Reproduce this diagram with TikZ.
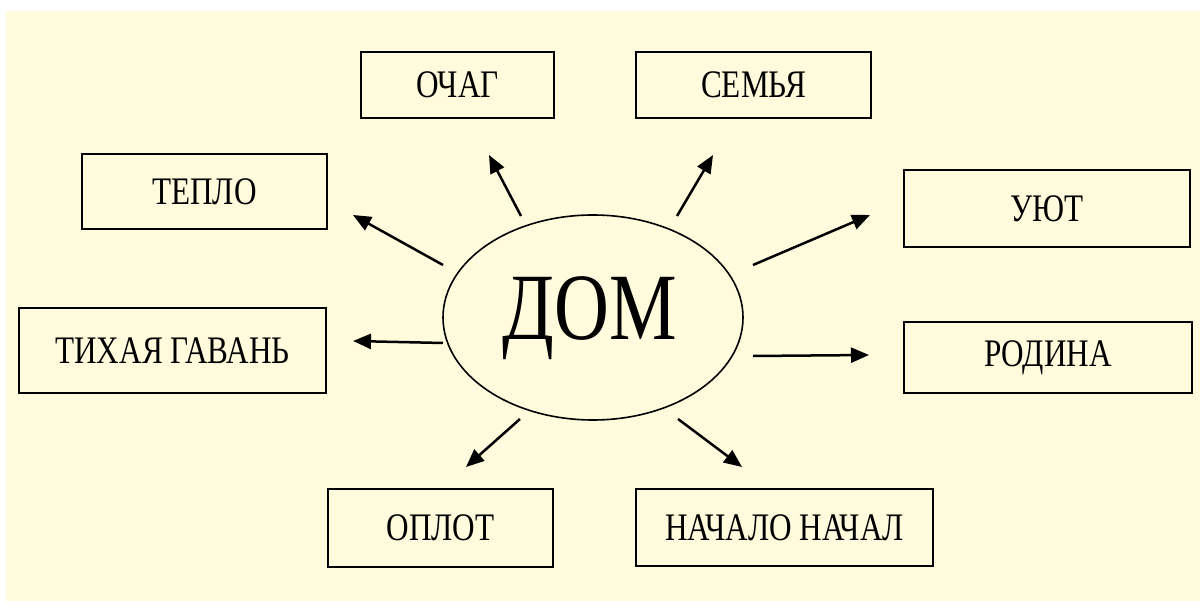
\documentclass[tikz,border=0pt]{standalone}
\usepackage{fontspec}
\setmainfont{Liberation Serif}
\newfontfamily\boxfont[FakeStretch=0.8]{Liberation Serif}
\usetikzlibrary{shapes.geometric,arrows.meta}
\definecolor{cream}{RGB}{255,251,220}
\tikzset{
  wordbox/.style={draw=black, line width=2.4pt, rectangle, inner sep=0pt,
    font=\boxfont\fontsize{39}{39}\selectfont},
  arr/.style={line width=2.5pt, -{Triangle[length=18pt,width=15pt]}},
  centre/.style={draw=black, line width=1.6pt, ellipse, inner sep=0pt,
    minimum width=300pt, minimum height=205pt}
}
\begin{document}
\begin{tikzpicture}[x=1pt,y=-1pt]
\useasboundingbox (0,0) rectangle (1200,601);
\fill[white] (0,0) rectangle (1200,601);
\fill[cream] (6,11) rectangle (1200,601);
% centre
\node[centre] (dom) at (593,317.5) {};
\node[anchor=base, inner sep=0pt, font=\boxfont\fontsize{95}{95}\selectfont] (domtext) at (590,340) {ДОМ};
% boxes
\node[wordbox, minimum width=193pt, minimum height=66pt] (ochag) at (457.5,85) {ОЧАГ};
\node[wordbox, minimum width=235pt, minimum height=66pt] (semya) at (753.5,85) {СЕМЬЯ};
\node[wordbox, minimum width=245pt, minimum height=75pt] (teplo) at (204.5,191.5) {ТЕПЛО};
\node[wordbox, minimum width=286pt, minimum height=77pt] (uyut) at (1047,208.5) {УЮТ};
\node[wordbox, minimum width=307pt, minimum height=85pt] (gavan) at (172.5,350.5) {ТИХАЯ ГАВАНЬ};
\node[wordbox, minimum width=288pt, minimum height=71pt] (rodina) at (1048,357.5) {РОДИНА};
\node[wordbox, minimum width=225pt, minimum height=78pt] (oplot) at (440.5,528) {ОПЛОТ};
\node[wordbox, minimum width=297pt, minimum height=77pt] (nachalo) at (784.5,527.5) {НАЧАЛО НАЧАЛ};
% arrow ends
\coordinate (s1) at (443,265); \coordinate (e1) at (353,215);
\coordinate (s2) at (521,216); \coordinate (e2) at (489,155);
\coordinate (s3) at (677,216); \coordinate (e3) at (713,155);
\coordinate (s4) at (753,265); \coordinate (e4) at (870,215);
\coordinate (s5) at (443,343); \coordinate (e5) at (353,341);
\coordinate (s6) at (753,356); \coordinate (e6) at (869,355);
\coordinate (s7) at (520,419); \coordinate (e7) at (466,467);
\coordinate (s8) at (678,419); \coordinate (e8) at (742,467);
\foreach \i in {1,...,8} {\draw[arr] (s\i) -- (e\i);}
\end{tikzpicture}
\end{document}
